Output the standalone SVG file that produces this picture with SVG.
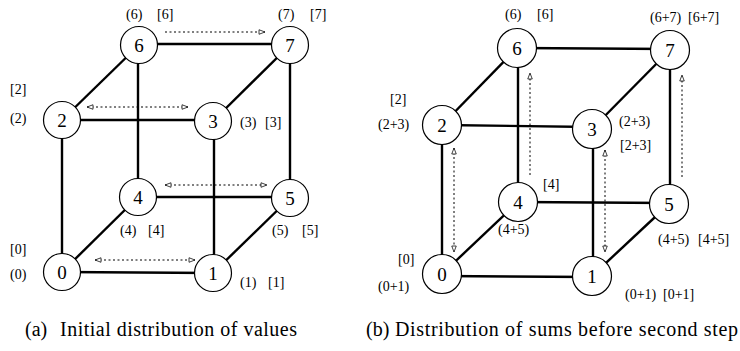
<svg xmlns="http://www.w3.org/2000/svg" width="740" height="351" viewBox="0 0 740 351" font-family="'Liberation Serif', serif">
<defs>
<marker id="ah" viewBox="0 0 10 8" refX="9" refY="4" markerWidth="8" markerHeight="6" markerUnits="userSpaceOnUse" orient="auto-start-reverse">
<path d="M1,1 L9,4 L1,7 Z" fill="#fff" stroke="#000" stroke-width="1"/>
</marker>
</defs>
<style>
.e{stroke:#000;stroke-width:2.4;fill:none}
.d{stroke:#000;stroke-width:1;stroke-dasharray:2 2.5;fill:none}
.n circle{fill:#fff;stroke:#000;stroke-width:1.2}
.n text{font-size:19px;text-anchor:middle}
.l{font-size:14px}
.c{font-size:20px}
text{font-family:"Liberation Serif",serif}
</style>
<rect width="740" height="351" fill="#fff"/>
<g id="connectors">
<line class="e" x1="62" y1="272" x2="213" y2="273"/>
<line class="e" x1="62" y1="120" x2="213" y2="120"/>
<line class="e" x1="138" y1="197" x2="290" y2="197"/>
<line class="e" x1="139" y1="44" x2="290" y2="44"/>
<line class="e" x1="62" y1="120" x2="62" y2="272"/>
<line class="e" x1="138" y1="45" x2="138" y2="197"/>
<line class="e" x1="214" y1="121" x2="214" y2="273"/>
<line class="e" x1="290" y1="45" x2="290" y2="198"/>
<line class="e" x1="62" y1="120" x2="139" y2="45"/>
<line class="e" x1="213" y1="121" x2="290" y2="45"/>
<line class="e" x1="62" y1="272" x2="138" y2="197"/>
<line class="e" x1="213" y1="273" x2="290" y2="198"/>
<line class="d" x1="165" y1="32" x2="265" y2="32" marker-end="url(#ah)"/>
<line class="d" x1="87" y1="107" x2="188" y2="107" marker-start="url(#ah)" marker-end="url(#ah)"/>
<line class="d" x1="165" y1="185" x2="267" y2="185" marker-start="url(#ah)" marker-end="url(#ah)"/>
<line class="d" x1="95" y1="260" x2="195" y2="260" marker-start="url(#ah)" marker-end="url(#ah)"/>
<line class="e" x1="442" y1="276" x2="592" y2="277"/>
<line class="e" x1="442" y1="125" x2="592" y2="127"/>
<line class="e" x1="518" y1="202" x2="669" y2="203"/>
<line class="e" x1="517" y1="48" x2="670" y2="49"/>
<line class="e" x1="442" y1="125" x2="442" y2="274"/>
<line class="e" x1="518" y1="48" x2="518" y2="202"/>
<line class="e" x1="593" y1="129" x2="593" y2="276"/>
<line class="e" x1="670" y1="50" x2="670" y2="204"/>
<line class="e" x1="442" y1="125" x2="517" y2="48"/>
<line class="e" x1="592" y1="129" x2="670" y2="50"/>
<line class="e" x1="442" y1="274" x2="518" y2="202"/>
<line class="e" x1="592" y1="276" x2="669" y2="204"/>
<line class="d" x1="454" y1="148" x2="454" y2="252" marker-start="url(#ah)" marker-end="url(#ah)"/>
<line class="d" x1="530" y1="175" x2="530" y2="73" marker-end="url(#ah)"/>
<line class="d" x1="605" y1="150" x2="605" y2="252" marker-start="url(#ah)" marker-end="url(#ah)"/>
<line class="d" x1="682" y1="177" x2="682" y2="75" marker-end="url(#ah)"/>
</g>
<g id="a0" class="n"><circle cx="62" cy="272" r="18.5"/><text x="62" y="278.5">0</text></g>
<g id="a1" class="n"><circle cx="213" cy="273" r="18.5"/><text x="213" y="279.5">1</text></g>
<g id="a2" class="n"><circle cx="62" cy="120" r="18.5"/><text x="62" y="126.5">2</text></g>
<g id="a3" class="n"><circle cx="213" cy="121" r="18.5"/><text x="213" y="127.5">3</text></g>
<g id="a4" class="n"><circle cx="138" cy="197" r="18.5"/><text x="138" y="203.5">4</text></g>
<g id="a5" class="n"><circle cx="290" cy="198" r="18.5"/><text x="290" y="204.5">5</text></g>
<g id="a6" class="n"><circle cx="139" cy="45" r="18.5"/><text x="139" y="51.5">6</text></g>
<g id="a7" class="n"><circle cx="290" cy="45" r="18.5"/><text x="290" y="51.5">7</text></g>
<g id="b0" class="n"><circle cx="442" cy="274" r="19.5"/><text x="442" y="280.5">0</text></g>
<g id="b1" class="n"><circle cx="592" cy="276" r="19.5"/><text x="592" y="282.5">1</text></g>
<g id="b2" class="n"><circle cx="442" cy="125" r="19.5"/><text x="442" y="131.5">2</text></g>
<g id="b3" class="n"><circle cx="592" cy="129" r="19.5"/><text x="592" y="135.5">3</text></g>
<g id="b4" class="n"><circle cx="518" cy="202" r="19.5"/><text x="518" y="208.5">4</text></g>
<g id="b5" class="n"><circle cx="669" cy="204" r="19.5"/><text x="669" y="210.5">5</text></g>
<g id="b6" class="n"><circle cx="517" cy="48" r="19.5"/><text x="517" y="54.5">6</text></g>
<g id="b7" class="n"><circle cx="670" cy="50" r="19.5"/><text x="670" y="56.5">7</text></g>
<g id="labels-a" class="l">
<text x="126" y="19">(6)</text><text x="157" y="19">[6]</text>
<text x="278" y="19">(7)</text><text x="310" y="19">[7]</text>
<text x="10" y="94">[2]</text>
<text x="10" y="123">(2)</text>
<text x="240" y="127">(3)</text><text x="265" y="127">[3]</text>
<text x="120" y="235">(4)</text><text x="148" y="235">[4]</text>
<text x="272" y="235">(5)</text><text x="302" y="235">[5]</text>
<text x="10" y="254">[0]</text>
<text x="10" y="279">(0)</text>
<text x="240" y="287">(1)</text><text x="268" y="287">[1]</text>
</g>
<g id="labels-b" class="l">
<text x="505" y="19">(6)</text><text x="537" y="19">[6]</text>
<text x="650" y="22">(6+7)</text><text x="688" y="22">[6+7]</text>
<text x="390" y="104">[2]</text>
<text x="378" y="129">(2+3)</text>
<text x="619" y="126">(2+3)</text>
<text x="620" y="150">[2+3]</text>
<text x="543" y="189">[4]</text>
<text x="498" y="234">(4+5)</text>
<text x="658" y="244">(4+5)</text><text x="698" y="244">[4+5]</text>
<text x="398" y="264">[0]</text>
<text x="378" y="291">(0+1)</text>
<text x="625" y="299">(0+1)</text><text x="663" y="299">[0+1]</text>
</g>
<g id="captions" class="c">
<text x="25" y="336">(a)</text><text x="60" y="336" textLength="237" lengthAdjust="spacing">Initial distribution of values</text>
<text x="366" y="336">(b)</text><text x="395" y="336" textLength="343" lengthAdjust="spacing">Distribution of sums before second step</text>
</g>
</svg>
